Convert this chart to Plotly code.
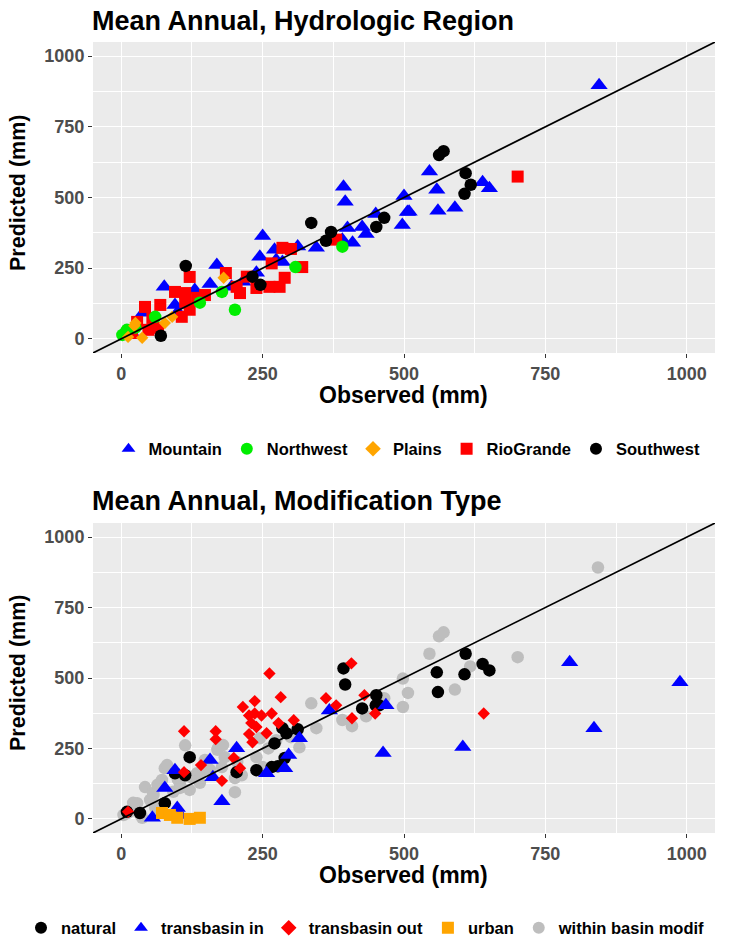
import plotly.graph_objects as go

# ---------------- data: top panel (Hydrologic Region) ----------------
mountain_x = [393, 396, 500, 506, 497, 450, 426, 433, 400, 391, 409, 345, 312, 250, 245, 271, 274, 285,
              239, 215, 195, 169, 157, 130, 76, 95, 39, 21, 100, 845, 545, 558, 509, 560, 590, 639, 651]
mountain_y = [538, 485, 505, 449, 403, 442, 396, 371, 392, 351, 340, 322, 327, 364, 290, 315, 279, 272,
              234, 202, 184, 261, 194, 173, 184, 120, 92, 14, 95, 897, 592, 527, 450, 453, 464, 554, 533]

northwest_x = [308, 178, 201, 139, 391, 60, 10, 2, 25, 7]
northwest_y = [254, 166, 103, 128, 326, 78, 32, 14, 40, 20]

plains_x = [181, 90, 77, 25, 37, 12, 23]
plains_y = [216, 78, 56, 56, 4, 7, 46]

riogrande_x = [285, 266, 320, 185, 222, 239, 262, 280, 289, 210, 204, 148, 121, 95, 113, 121, 107, 69,
               42, 55, 28, 48, 65, 19, 113, 134, 380, 701, 300]
riogrande_y = [322, 267, 254, 233, 220, 180, 184, 184, 216, 162, 184, 155, 219, 166, 162, 103, 78, 120,
               113, 74, 60, 32, 39, 21, 131, 145, 351, 574, 318]

southwest_x = [562, 570, 609, 618, 607, 465, 451, 336, 371, 362, 114, 246, 232, 70]
southwest_y = [650, 664, 586, 545, 513, 428, 396, 410, 378, 347, 258, 191, 220, 11]

# ---------------- data: bottom panel (Modification Type) ----------------
natural_x = [609, 639, 651, 558, 607, 560, 456, 393, 396, 426, 450, 451, 285, 292, 312, 271, 289, 277,
             266, 239, 204, 121, 95, 113, 77, 33, 10]
natural_y = [586, 550, 527, 520, 513, 450, 403, 534, 477, 392, 403, 439, 322, 304, 318, 268, 216, 187,
             184, 173, 166, 219, 162, 155, 56, 21, 25]

tin_x = [793, 988, 836, 604, 463, 468, 204, 157, 162, 178, 257, 289, 296, 315, 368, 95, 77, 99, 55, 104]
tin_y = [556, 485, 322, 255, 234, 403, 251, 209, 148, 63, 162, 180, 227, 286, 385, 173, 110, 39, 4, 14]

tout_x = [407, 380, 408, 362, 430, 449, 641, 262, 282, 215, 236, 226, 236, 248, 266, 230, 239, 226, 232,
          278, 305, 257, 111, 167, 167, 141, 111, 178, 210, 199, 12]
tout_y = [552, 403, 357, 428, 439, 374, 374, 516, 432, 397, 418, 367, 374, 367, 374, 340, 326, 301, 272,
          340, 350, 304, 311, 311, 283, 191, 166, 135, 180, 216, 25]

urban_x = [72, 86, 99, 121, 139]
urban_y = [21, 14, 4, 0, 4]

within_x = [843, 562, 570, 545, 617, 701, 590, 507, 498, 498, 465, 336, 345, 315, 391, 408, 433, 461, 245,
            274, 250, 201, 183, 171, 139, 113, 77, 134, 104, 42, 56, 69, 51, 28, 37, 4, 121, 213, 178, 239,
            60, 20, 150, 100, 64, 72, 81, 57, 92, 104, 122, 140, 148, 157, 170, 180, 201, 205, 11, 34, 21,
            300, 260]
within_y = [892, 648, 662, 586, 541, 574, 459, 447, 498, 397, 428, 410, 322, 254, 351, 329, 364, 428, 286,
            279, 184, 95, 219, 251, 128, 261, 180, 162, 110, 113, 92, 120, 67, 56, 4, 14, 103, 155, 184, 219,
            40, 30, 200, 140, 121, 138, 191, 85, 96, 121, 149, 163, 209, 174, 245, 262, 145, 202, 21, 14, 57,
            290, 250]

tick_vals = [0, 250, 500, 750, 1000]
minor_vals = [125, 375, 625, 875]
one_to_one = [-50, 1050]

F = "Liberation Sans, Arial, sans-serif"

fig = go.Figure()

def add(x, y, name, color, symbol, size, xa, ya, leg, rank):
    fig.add_trace(go.Scatter(
        x=x, y=y, mode="markers", name=name, xaxis=xa, yaxis=ya, legend=leg, legendrank=rank,
        marker=dict(color=color, symbol=symbol, size=size, line=dict(width=0)),
    ))

# top
add(mountain_x, mountain_y, "Mountain", "#0000FF", "triangle-up", 15, "x", "y", "legend", 1)
add(riogrande_x, riogrande_y, "RioGrande", "#FF0000", "square", 12, "x", "y", "legend", 4)
add(northwest_x, northwest_y, "Northwest", "#00EE00", "circle", 12.5, "x", "y", "legend", 2)
add(plains_x, plains_y, "Plains", "#FFA500", "diamond", 9.5, "x", "y", "legend", 3)
add(southwest_x, southwest_y, "Southwest", "#000000", "circle", 12.5, "x", "y", "legend", 5)
fig.add_trace(go.Scatter(x=one_to_one, y=one_to_one, mode="lines", line=dict(color="black", width=1.6),
                         showlegend=False, xaxis="x", yaxis="y", hoverinfo="skip"))

# bottom
add(within_x, within_y, "within basin modif", "#BEBEBE", "circle", 12.5, "x2", "y2", "legend2", 5)
add(natural_x, natural_y, "natural", "#000000", "circle", 12.5, "x2", "y2", "legend2", 1)
add(tin_x, tin_y, "transbasin in", "#0000FF", "triangle-up", 15, "x2", "y2", "legend2", 2)
add(tout_x, tout_y, "transbasin out", "#FF0000", "diamond", 9.5, "x2", "y2", "legend2", 3)
add(urban_x, urban_y, "urban", "#FFA500", "square", 12, "x2", "y2", "legend2", 4)
fig.add_trace(go.Scatter(x=one_to_one, y=one_to_one, mode="lines", line=dict(color="black", width=1.6),
                         showlegend=False, xaxis="x2", yaxis="y2", hoverinfo="skip"))

W, H = 729, 943
XD = [93 / W, 715 / W]
TOP = [1 - 353 / H, 1 - 42 / H]
BOT = [1 - 833 / H, 1 - 523 / H]

def axis(domain, anchor):
    return dict(
        domain=domain, anchor=anchor, range=[-50, 1050], tickvals=tick_vals,
        ticks="outside", ticklen=4, tickwidth=1, tickcolor="#333333",
        showgrid=True, gridcolor="white", gridwidth=1.4, zeroline=False, showline=False,
        tickfont=dict(family=F, size=18, color="#4D4D4D", weight="bold"),
        minor=dict(tickvals=minor_vals, showgrid=True, gridcolor="white", gridwidth=0.6, ticks=""),
        fixedrange=True, automargin=False,
    )

legend_common = dict(orientation="h", xanchor="center", yanchor="middle", bgcolor="rgba(0,0,0,0)",
                     font=dict(family=F, size=16.5, color="black", weight="bold"), itemsizing="constant",
                     tracegroupgap=0, itemwidth=30)

fig.update_layout(
    width=W, height=H, autosize=False,
    margin=dict(l=0, r=0, t=0, b=0, autoexpand=False),
    paper_bgcolor="white", plot_bgcolor="#EBEBEB",
    xaxis=axis(XD, "y"), yaxis=axis(TOP, "x"),
    xaxis2=axis(XD, "y2"), yaxis2=axis(BOT, "x2"),
    legend=dict(x=407 / W, y=1 - 449 / H, **legend_common),
    legend2=dict(x=366 / W, y=1 - 928 / H, **legend_common),
    showlegend=True,
)

def text(x, y, s, size, angle=0, xanchor="center"):
    fig.add_annotation(x=x / W, y=1 - y / H, xref="paper", yref="paper", text=s, showarrow=False,
                       xanchor=xanchor, yanchor="middle", textangle=angle,
                       font=dict(family=F, size=size, color="black", weight="bold"))

text(90, 21, "Mean Annual, Hydrologic Region", 27, xanchor="left")
text(90, 501, "Mean Annual, Modification Type", 27, xanchor="left")
text(404, 395, "Observed (mm)", 23)
text(404, 875, "Observed (mm)", 23)
text(18, 193, "Predicted (mm)", 21.5, angle=-90)
text(18, 673, "Predicted (mm)", 21.5, angle=-90)

fig.write_html("out.html", config={"displayModeBar": False},
               post_script="document.body.style.margin='0';document.body.style.overflow='hidden';")
